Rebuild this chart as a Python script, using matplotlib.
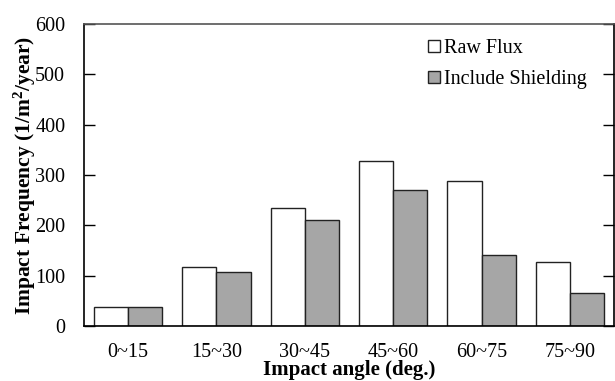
import numpy as np
import matplotlib
matplotlib.use("Agg")
import matplotlib.pyplot as plt

# data
angle_bins = ["0~15", "15~30", "30~45", "45~60", "60~75", "75~90"]
raw_flux = [38, 117, 235, 328, 289, 127]
include_shielding = [37, 107, 210, 270, 142, 66]

plt.rcParams['font.family'] = ['Liberation Serif', 'DejaVu Serif']
plt.rcParams['mathtext.fontset'] = 'custom'
plt.rcParams['mathtext.rm'] = 'Liberation Serif'
plt.rcParams['mathtext.bf'] = 'Liberation Serif:bold'

fig = plt.figure(figsize=(6.15, 3.81), dpi=100)
ax = fig.add_axes([84 / 615, 55 / 381, 530 / 615, 302 / 381])

x = np.arange(len(angle_bins))
w = 0.385
ax.bar(x - w / 2, raw_flux, w, color='white', edgecolor='#222222',
       linewidth=1.0, label='Raw Flux')
ax.bar(x + w / 2, include_shielding, w, color='#a6a6a6', edgecolor='#222222',
       linewidth=1.0, label='Include Shielding')

ax.set_xlim(-0.5, len(angle_bins) - 0.5)
ax.set_ylim(0, 600)
ax.set_yticks(range(0, 601, 100))
ax.set_xticks(x)
ax.set_xticklabels(angle_bins)
ax.tick_params(axis='x', length=0, pad=12, labelsize=14.5)
ax.tick_params(axis='y', direction='in', length=8, width=1, right=True,
               labelsize=14.5, pad=13.5)

ax.spines['left'].set_color('black')
ax.spines['bottom'].set_color('black')
ax.spines['top'].set_color('#555555')
ax.spines['right'].set_color('black')
for s in ax.spines.values():
    s.set_linewidth(1.2)

ax.set_ylabel(r'Impact Frequency (1/m$\mathbf{^2}$/year)', fontweight='bold',
              fontsize=15.5, labelpad=-2)
ax.set_xlabel('Impact angle (deg.)', fontweight='bold', fontsize=15,
              labelpad=-1)

ax.legend(loc='upper left', bbox_to_anchor=(0.615, 1.01), frameon=False,
          handlelength=0.6, handleheight=0.6, handletextpad=0.2,
          labelspacing=0.6, fontsize=14.5)

fig.savefig('out.png', dpi=100)
